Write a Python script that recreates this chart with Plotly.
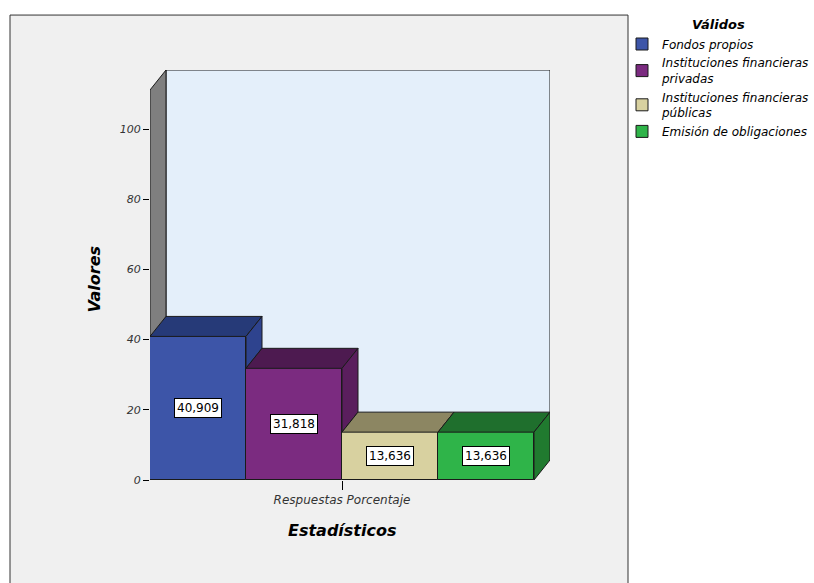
import plotly.graph_objects as go

# ---- data ----
categories = ["Fondos propios", "Instituciones financieras<br>privadas",
              "Instituciones financieras<br>públicas", "Emisión de obligaciones"]
values = [40.909, 31.818, 13.636, 13.636]
value_labels = ["40,909", "31,818", "13,636", "13,636"]
front_colors = ["#3d55a8", "#7b2b80", "#d8d1a0", "#2fb449"]
top_colors = ["#263a78", "#4d1a50", "#8c8662", "#1f6f2d"]
side_colors = ["#2e438e", "#5a1e5d", "#a9a27a", "#207a2f"]
y_ticks = [0, 20, 40, 60, 80, 100]
x_tick_label = "Respuestas Porcentaje"

FONT = "DejaVu Sans, Liberation Sans, Arial"

# ---- geometry (in axis units) ----
x_lo = -0.5
x_hi = x_lo + 400 / 96.0
y_max = 410 / 3.51
depth_x = 16 / 96.0
depth_y = 20 / 3.51
wall_top = y_max
n = len(values)

fig = go.Figure()

# front faces as bars (also give legend)
for i in range(n):
    fig.add_trace(go.Bar(
        x=[i], y=[values[i]], width=[1.0], name=f"<i>{categories[i].replace('<br>', '</i><br><i>')}</i>",
        marker=dict(color=front_colors[i], line=dict(color="#1a1a1a", width=1)),
        hoverinfo="skip"))

# top and visible side faces
for i in range(n):
    l, r, h = i - 0.5, i + 0.5, values[i]
    fig.add_trace(go.Scatter(
        x=[l, r, r + depth_x, l + depth_x, l], y=[h, h, h + depth_y, h + depth_y, h],
        fill="toself", fillcolor=top_colors[i], mode="lines",
        line=dict(color="#1a1a1a", width=1), showlegend=False, hoverinfo="skip"))
    base = values[i + 1] if i + 1 < n else 0
    if base < h:
        fig.add_trace(go.Scatter(
            x=[r, r + depth_x, r + depth_x, r, r],
            y=[base, base + depth_y, h + depth_y, h, base],
            fill="toself", fillcolor=side_colors[i], mode="lines",
            line=dict(color="#1a1a1a", width=1), showlegend=False, hoverinfo="skip"))

shapes = [
    # outer frame
    dict(type="rect", xref="paper", yref="paper", x0=-0.35, x1=1.195, y0=-0.3, y1=1.134,
         fillcolor="#f0f0f0", line=dict(color="#333333", width=1), layer="below"),
    # back wall
    dict(type="rect", xref="x", yref="y", x0=x_lo + depth_x, x1=n - 0.5 + depth_x,
         y0=depth_y, y1=wall_top, fillcolor="#e4effa",
         line=dict(color="#1a1a1a", width=1), layer="below"),
    # left side wall
    dict(type="path", xref="x", yref="y",
         path=f"M {x_lo},0 L {x_lo},{wall_top - depth_y} L {x_lo + depth_x},{wall_top} "
              f"L {x_lo + depth_x},{depth_y} Z",
         fillcolor="#7f7f7f", line=dict(color="#1a1a1a", width=1), layer="below"),
]

annotations = []
for i in range(n):
    annotations.append(dict(
        x=i, y=values[i] / 2, xref="x", yref="y", text=value_labels[i], showarrow=False,
        font=dict(family=FONT, size=12, color="#000000"),
        bgcolor="#ffffff", bordercolor="#000000", borderwidth=1, borderpad=2))
annotations.append(dict(
    x=-0.1375, y=0.49, xref="paper", yref="paper", text="<b><i>Valores</i></b>",
    showarrow=False, textangle=-90, xshift=-12,
    font=dict(family=FONT, size=16, color="#000000")))
annotations.append(dict(
    x=0.48, y=-0.15, xref="paper", yref="paper", text="<b><i>Estadísticos</i></b>",
    showarrow=False, font=dict(family=FONT, size=16, color="#000000")))

fig.update_layout(
    width=814, height=583,
    margin=dict(l=150, r=264, t=70, b=103, autoexpand=False),
    paper_bgcolor="#ffffff", plot_bgcolor="rgba(0,0,0,0)",
    barmode="overlay", bargap=0,
    shapes=shapes, annotations=annotations,
    showlegend=True,
    legend=dict(
        x=1.18, y=1.14, xanchor="left", yanchor="top",
        title=dict(text="<b><i>Válidos</i></b>", side="top center",
                   font=dict(family=FONT, size=13, color="#000000")),
        font=dict(family=FONT, size=12, color="#000000"),
        bgcolor="rgba(0,0,0,0)", itemclick=False, tracegroupgap=0,
    ),
    xaxis=dict(range=[x_lo, x_hi], showgrid=False, zeroline=False, showline=False,
               tickvals=[1.5], ticktext=[f"<i>{x_tick_label}</i>"], ticks="outside",
               ticklen=9, tickcolor="#000000",
               tickfont=dict(family=FONT, size=12, color="#333333")),
    yaxis=dict(range=[0, y_max], showgrid=False, zeroline=False, showline=False,
               tickvals=y_ticks, ticktext=[f"<i>{t}</i>" for t in y_ticks],
               ticks="outside", ticklen=6, tickcolor="#000000",
               tickfont=dict(family=FONT, size=11, color="#333333")),
)

fig.write_html("out.html")
